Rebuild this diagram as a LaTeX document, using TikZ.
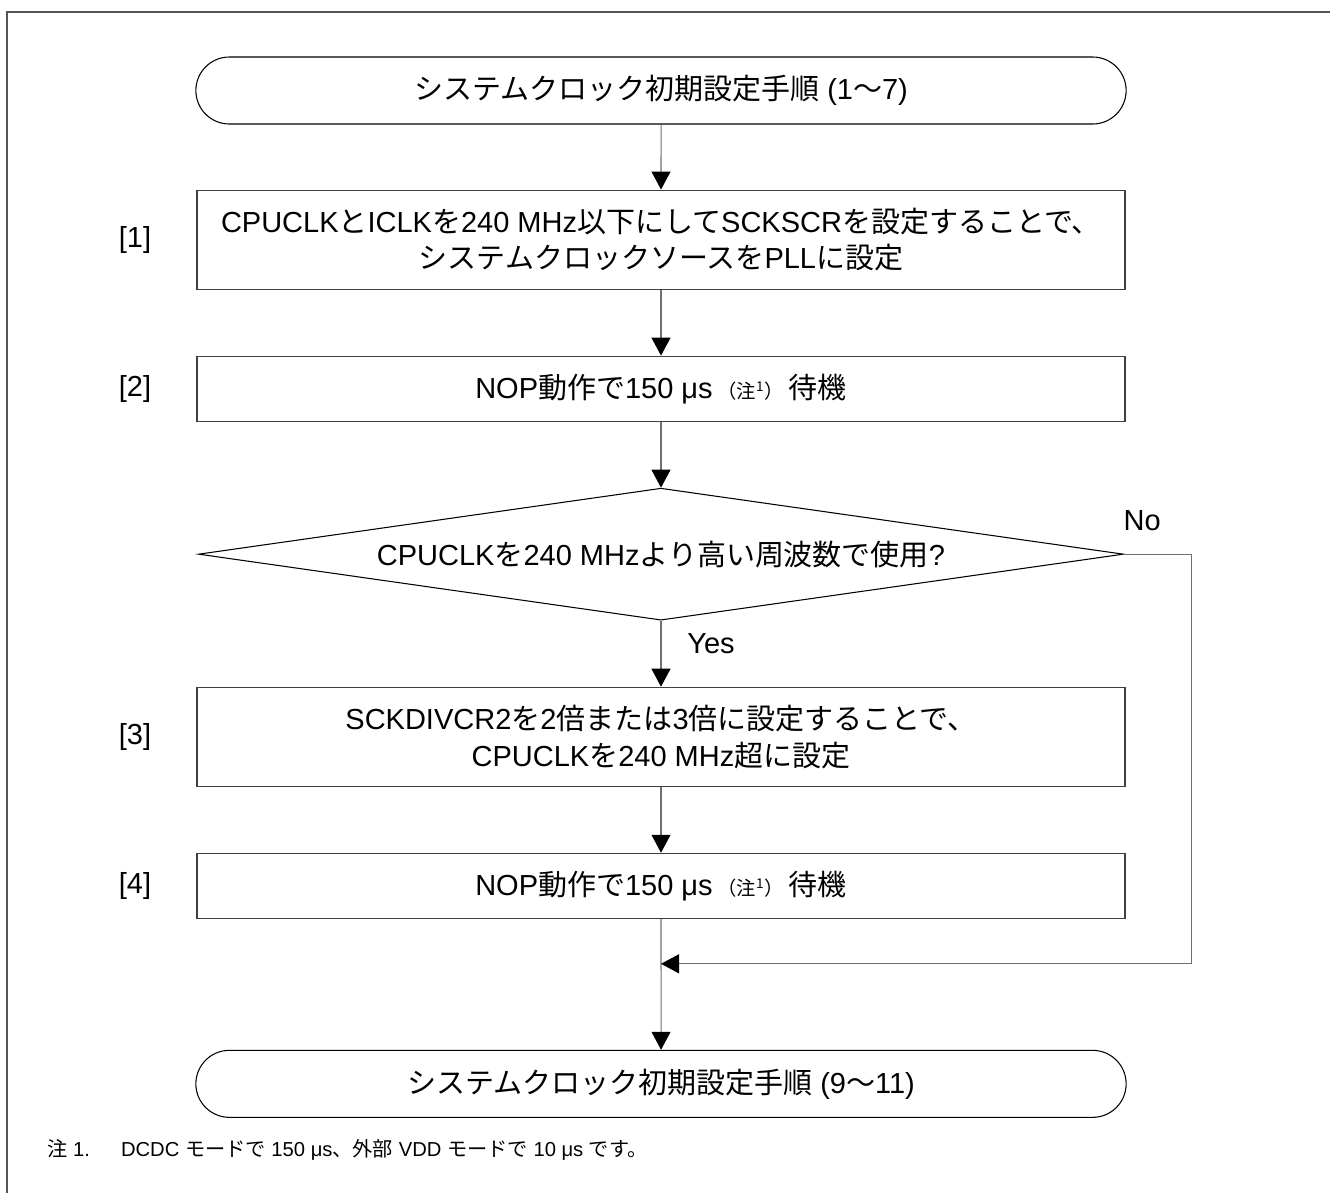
\documentclass[tikz,border=0pt]{standalone}
\usepackage{fontspec}
\setmainfont{Liberation Sans}
\newfontfamily\jpfont{Noto Sans CJK JP}
\newcommand{\jp}[1]{{\jpfont #1}}
\newcommand{\chunote}{{\fontsize{11}{11}\selectfont\jpfont （注\textsuperscript{1}）}}
\usepackage{tikz}
\usetikzlibrary{positioning, arrows.meta, shapes.geometric, shapes.misc}
\definecolor{linegray}{HTML}{707070}
\definecolor{boxgray}{HTML}{404040}
\definecolor{framegray}{HTML}{555555}

\begin{document}
\begin{tikzpicture}[
    font=\fontsize{16.5}{21}\selectfont,
    node distance=1.32cm,
    term/.style={draw=black, line width=0.6pt, rounded rectangle, minimum width=18.84cm, minimum height=1.34cm},
    proc/.style={draw=boxgray, line width=0.6pt, align=center, minimum width=18.56cm, minimum height=1.3cm},
    dec/.style={draw=black, line width=0.6pt, diamond, aspect=7, inner sep=0pt, minimum width=18.5cm, minimum height=2.64cm},
    lbl/.style={inner sep=0pt},
    arr/.style={draw=linegray, line width=0.6pt, -{Triangle[length=3.6mm, width=3.8mm, color=black]}},
    line/.style={draw=linegray, line width=0.6pt},
  ]
  \useasboundingbox (0,0) rectangle (26.6,-23.86);
  \draw[framegray, line width=1.1pt] (0.14,-23.86) -- (0.14,-0.24) -- (26.6,-0.24);

  \node[term] (start) at (13.22,-1.81) {\jp{システムクロック初期設定手順} (1\jp{〜}7)};
  \node[proc, below=1.3cm of start, minimum height=1.98cm] (pll) {CPUCLK\jp{と}ICLK\jp{を}240 MHz\jp{以下にして}SCKSCR\jp{を設定することで、}\\\jp{システムクロックソースを}PLL\jp{に設定}};
  \node[proc, below=of pll] (wait1) {NOP\jp{動作で}150 μs\,\chunote\,\jp{待機}};
  \node[dec, below=of wait1] (fast) {CPUCLK\jp{を}240 MHz\jp{より高い周波数で使用}?};
  \node[proc, below=of fast, minimum height=1.98cm] (div) {SCKDIVCR2\jp{を}2\jp{倍または}3\jp{倍に設定することで、}\\CPUCLK\jp{を}240 MHz\jp{超に設定}};
  \node[proc, below=of div] (wait2) {NOP\jp{動作で}150 μs\,\chunote\,\jp{待機}};
  \node[term, below=2.62cm of wait2] (next) {\jp{システムクロック初期設定手順} (9\jp{〜}11)};

  \node[lbl, left=0.9cm of pll] (n1) {[1]};
  \node[lbl, left=0.9cm of wait1] (n2) {[2]};
  \node[lbl, left=0.9cm of div] (n3) {[3]};
  \node[lbl, left=0.9cm of wait2] (n4) {[4]};

  \coordinate[below=0.9cm of wait2.south] (join);

  \draw[arr] (start) -- (pll);
  \draw[arr] (pll) -- (wait1);
  \draw[arr] (wait1) -- (fast);
  \draw[arr] (fast) -- node[pos=0.35, right=4mm] {Yes} (div);
  \draw[arr] (div) -- (wait2);
  \draw[arr] (wait2) -- (next);
  \draw[line] (fast.east) -- node[pos=0.27, above=3.5mm] {No} ++(1.34,0) coordinate (corner);
  \draw[arr] (corner) |- (join);

  \node[anchor=west, inner sep=0pt, font=\fontsize{11.5}{13}\selectfont] (note) at (0.94,-23.0) {\jp{注} 1.\hspace{0.62cm}DCDC \jp{モードで} 150 μs\jp{、外部} VDD \jp{モードで} 10 μs \jp{です。}};
\end{tikzpicture}
\end{document}
